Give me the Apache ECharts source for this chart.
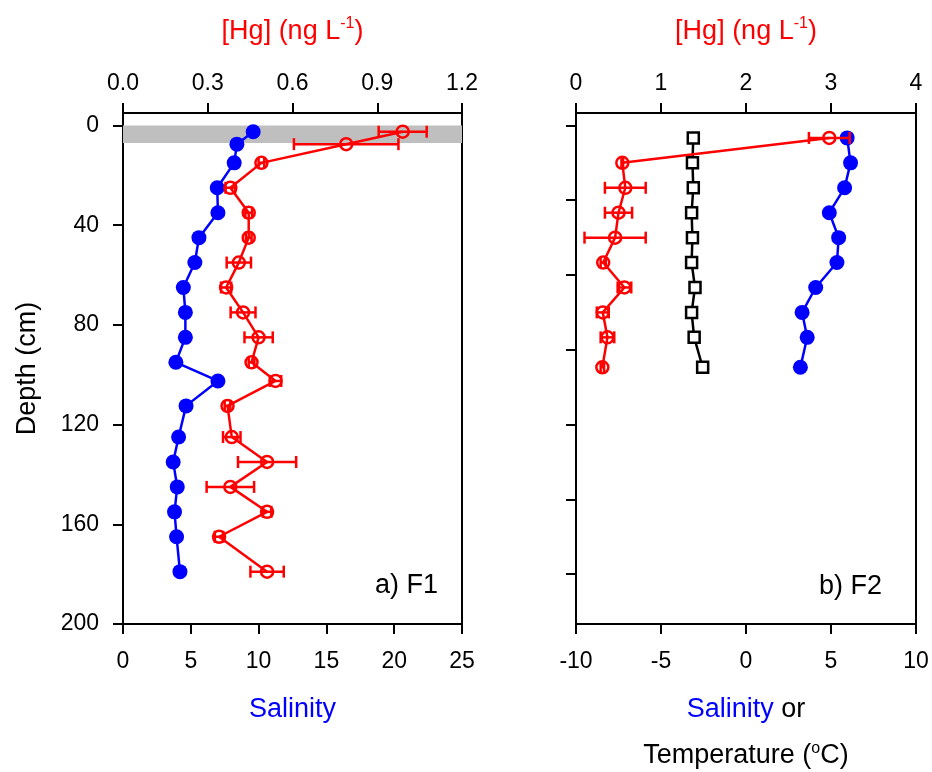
<!DOCTYPE html>
<html>
<head>
<meta charset="utf-8">
<script src="https://cdn.jsdelivr.net/npm/echarts@6/dist/echarts.min.js"></script>
<style>
  html, body { margin: 0; padding: 0; background: #fff; }
  #main { width: 932px; height: 772px; }
</style>
</head>
<body>
<div id="main"></div>
<script>
// F1 profile (depth in cm)
const depthF1 = [2.5, 7.5, 15, 25, 35, 45, 55, 65, 75, 85, 95, 102.5, 112.5, 125, 135, 145, 155, 165, 179];
const salF1 = [9.6, 8.4, 8.2, 6.95, 7.0, 5.6, 5.3, 4.45, 4.6, 4.6, 3.9, 7.0, 4.65, 4.1, 3.7, 4.0, 3.8, 3.95, 4.2];
const hgF1 = [0.99, 0.79, 0.49, 0.38, 0.445, 0.445, 0.41, 0.365, 0.425, 0.48, 0.455, 0.54, 0.37, 0.385, 0.51, 0.38, 0.51, 0.34, 0.51];
const hgErrF1 = [0.085, 0.185, 0.01, 0.017, 0.012, 0.01, 0.043, 0.018, 0.044, 0.05, 0.01, 0.02, 0.01, 0.031, 0.103, 0.084, 0.015, 0.015, 0.059];

// F2 profile
const depthF2 = [5, 15, 25, 35, 45, 55, 65, 75, 85, 97];
const salF2 = [5.95, 6.15, 5.8, 4.9, 5.45, 5.35, 4.1, 3.3, 3.6, 3.2];
const tempF2 = [-3.1, -3.15, -3.1, -3.2, -3.15, -3.2, -3.0, -3.2, -3.05, -2.55];
const hgF2 = [2.98, 0.545, 0.58, 0.5, 0.46, 0.32, 0.57, 0.315, 0.37, 0.31];
const hgErrF2 = [0.24, 0.01, 0.24, 0.16, 0.36, 0.03, 0.08, 0.07, 0.08, 0.02];

// axis ticks
const depthTicksF1 = [0, 40, 80, 120, 160, 200];
const depthTicksF2 = [0, 30, 60, 90, 120, 150, 180];
const surfaceBand = [0, 7];

const FONT = 'Liberation Sans';
const RED = '#ff0000', BLUE = '#0000ff';

function pairs(xs, ys) { return xs.map((v, i) => [v, ys[i]]); }
function triples(xs, ys, es) { return xs.map((v, i) => [v, ys[i], es[i]]); }

function errBar(params, api) {
    const x = api.value(0), y = api.value(1), e = api.value(2);
    const a = api.coord([x - e, y]);
    const b = api.coord([x + e, y]);
    const h = 6;
    const st = { stroke: RED, lineWidth: 2.5 };
    return {
        type: 'group',
        children: [
            { type: 'line', shape: { x1: a[0], y1: a[1], x2: b[0], y2: b[1] }, style: st },
            { type: 'line', shape: { x1: a[0], y1: a[1] - h, x2: a[0], y2: a[1] + h }, style: st },
            { type: 'line', shape: { x1: b[0], y1: b[1] - h, x2: b[0], y2: b[1] + h }, style: st }
        ]
    };
}

const axisLine = { onZero: false, lineStyle: { color: '#000', width: 2 } };
const axisTick = { length: 10, lineStyle: { color: '#000', width: 2 } };
const labelBase = { color: '#000', fontSize: 23, fontFamily: FONT };

function xAx(grid, pos, min, max, interval, extra) {
    return Object.assign({
        type: 'value', gridIndex: grid, position: pos, min: min, max: max, interval: interval,
        axisLine: axisLine, axisTick: axisTick, splitLine: { show: false },
        axisLabel: Object.assign({}, labelBase, { margin: pos === 'top' ? 18 : 26 })
    }, extra || {});
}

const supStyle = { fontSize: 16, fontFamily: FONT, padding: [0, 0, 15, 0] };
const hgName = '[Hg] (ng L{sup|-1})';

let myChart = echarts.init(document.getElementById('main'));

let option = {
    animation: false,
    backgroundColor: '#fff',
    grid: [
        { left: 123, top: 113, width: 339, height: 511, outerBoundsMode: 'none', show: true, borderColor: '#000', borderWidth: 2 },
        { left: 576, top: 113, width: 340, height: 511, outerBoundsMode: 'none', show: true, borderColor: '#000', borderWidth: 2 }
    ],
    xAxis: [
        xAx(0, 'bottom', 0, 25, 5, {
            name: 'Salinity', nameLocation: 'middle', nameGap: 72,
            nameTextStyle: { color: BLUE, fontSize: 27, fontFamily: FONT }
        }),
        xAx(0, 'top', 0, 1.2, 0.3, {
            name: hgName, nameLocation: 'middle', nameGap: 66,
            nameTextStyle: { color: RED, fontSize: 27, fontFamily: FONT, rich: { sup: Object.assign({ color: RED }, supStyle) } },
            axisLabel: Object.assign({}, labelBase, { margin: 18, formatter: v => v.toFixed(1) })
        }),
        xAx(1, 'bottom', -10, 10, 5, {
            name: '{b|Salinity} or\n{k|Temperature (}{sup|o}{k|C)}', nameLocation: 'middle', nameGap: 63,
            nameTextStyle: {
                color: '#000', fontSize: 27, fontFamily: FONT, lineHeight: 46,
                rich: {
                    b: { color: BLUE, fontSize: 27, fontFamily: FONT, lineHeight: 46 },
                    k: { color: '#000', fontSize: 27, fontFamily: FONT, lineHeight: 46 },
                    sup: Object.assign({ color: '#000' }, supStyle)
                }
            }
        }),
        xAx(1, 'top', 0, 4, 1, {
            name: hgName, nameLocation: 'middle', nameGap: 66,
            nameTextStyle: { color: RED, fontSize: 27, fontFamily: FONT, rich: { sup: Object.assign({ color: RED }, supStyle) } }
        })
    ],
    yAxis: [
        {
            type: 'value', gridIndex: 0, inverse: true, min: -5, max: 200,
            name: 'Depth (cm)', nameLocation: 'middle', nameGap: 82,
            nameTextStyle: { color: '#000', fontSize: 27, fontFamily: FONT },
            axisLine: axisLine,
            axisTick: Object.assign({ customValues: depthTicksF1 }, axisTick),
            axisLabel: Object.assign({ customValues: depthTicksF1, margin: 24 }, labelBase),
            splitLine: { show: false }
        },
        {
            type: 'value', gridIndex: 1, inverse: true, min: -5, max: 200,
            axisLine: axisLine,
            axisTick: Object.assign({ customValues: depthTicksF2 }, axisTick),
            axisLabel: { show: false },
            splitLine: { show: false }
        }
    ],
    graphic: [
        { type: 'text', left: 375, top: 572, style: { text: 'a) F1', font: '27px "Liberation Sans"', fill: '#000' } },
        { type: 'text', left: 819, top: 573, style: { text: 'b) F2', font: '27px "Liberation Sans"', fill: '#000' } }
    ],
    series: [
        {
            name: 'F1 salinity', type: 'line', xAxisIndex: 0, yAxisIndex: 0,
            data: pairs(salF1, depthF1),
            symbol: 'circle', symbolSize: 15,
            itemStyle: { color: BLUE },
            lineStyle: { color: BLUE, width: 2.5 },
            markArea: {
                silent: true,
                itemStyle: { color: '#bfbfbf' },
                data: [[{ yAxis: surfaceBand[0] }, { yAxis: surfaceBand[1] }]]
            },
            z: 3
        },
        {
            name: 'F1 Hg', type: 'line', xAxisIndex: 1, yAxisIndex: 0,
            data: pairs(hgF1, depthF1),
            symbol: 'circle', symbolSize: 12,
            itemStyle: { color: 'rgba(0,0,0,0)', borderColor: RED, borderWidth: 2.5 },
            lineStyle: { color: RED, width: 2.5 },
            z: 4
        },
        {
            name: 'F1 Hg err', type: 'custom', xAxisIndex: 1, yAxisIndex: 0,
            data: triples(hgF1, depthF1, hgErrF1),
            encode: { x: 0, y: 1 },
            renderItem: errBar,
            z: 5
        },
        {
            name: 'F2 salinity', type: 'line', xAxisIndex: 2, yAxisIndex: 1,
            data: pairs(salF2, depthF2),
            symbol: 'circle', symbolSize: 15,
            itemStyle: { color: BLUE },
            lineStyle: { color: BLUE, width: 2.5 },
            z: 3
        },
        {
            name: 'F2 temperature', type: 'line', xAxisIndex: 2, yAxisIndex: 1,
            data: pairs(tempF2, depthF2),
            symbol: 'rect', symbolSize: 11,
            itemStyle: { color: '#fff', borderColor: '#000', borderWidth: 2.5 },
            lineStyle: { color: '#000', width: 2.5 },
            z: 3
        },
        {
            name: 'F2 Hg', type: 'line', xAxisIndex: 3, yAxisIndex: 1,
            data: pairs(hgF2, depthF2),
            symbol: 'circle', symbolSize: 12,
            itemStyle: { color: 'rgba(0,0,0,0)', borderColor: RED, borderWidth: 2.5 },
            lineStyle: { color: RED, width: 2.5 },
            z: 4
        },
        {
            name: 'F2 Hg err', type: 'custom', xAxisIndex: 3, yAxisIndex: 1,
            data: triples(hgF2, depthF2, hgErrF2),
            encode: { x: 0, y: 1 },
            renderItem: errBar,
            z: 5
        }
    ]
};
myChart.setOption(option);
</script>
</body>
</html>
